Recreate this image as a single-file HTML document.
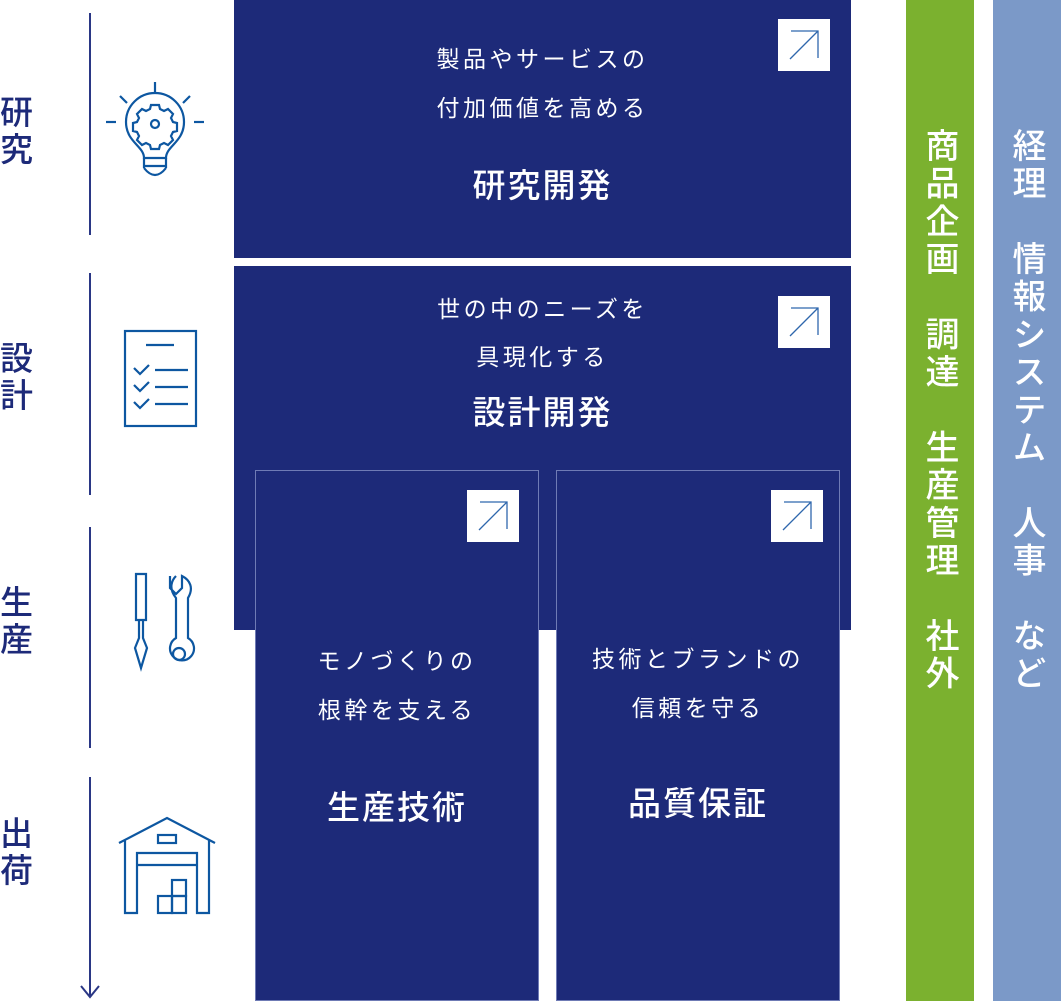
<!DOCTYPE html>
<html><head><meta charset="utf-8"><style>
*{margin:0;padding:0;box-sizing:border-box}
body{width:1061px;height:1001px;background:#fff;position:relative;overflow:hidden;font-family:"Liberation Sans","Noto Sans CJK JP",sans-serif}
.a{position:absolute}
.nv{background:#1d2a79}
.t{position:absolute;color:#fff;text-align:center;white-space:nowrap;line-height:1}
.s{font-size:23px;letter-spacing:3.5px}
.b{font-size:33px;letter-spacing:2px;font-weight:500}
.ar{position:absolute;width:52px;height:52px;background:#fff}
.lb{position:absolute;left:0;width:36px;color:#1d2a79;font-size:33px;line-height:37px;font-weight:500}
.vl{position:absolute;left:89px;width:2px;background:#2a3785}
.vt{position:absolute;top:128px;writing-mode:vertical-rl;color:#fff;font-size:34px;letter-spacing:3.7px;font-weight:500;line-height:1}
</style></head><body>
<div class="vl" style="top:13px;height:222px"></div>
<div class="vl" style="top:273px;height:222px"></div>
<div class="vl" style="top:527px;height:221px"></div>
<div class="vl" style="top:777px;height:220px"></div>
<svg class="a" style="left:78px;top:982px" width="24" height="18"><polyline points="3,4 12,15 21,4" fill="none" stroke="#2a3785" stroke-width="2"/></svg>
<div class="lb" style="top:94px">研<br>究</div>
<div class="lb" style="top:340px">設<br>計</div>
<div class="lb" style="top:584px">生<br>産</div>
<div class="lb" style="top:815px">出<br>荷</div>

<svg class="a" style="left:0;top:0" width="230" height="1001" fill="none" stroke="#0d57a1" stroke-width="2.2">
<line x1="155" y1="82" x2="155" y2="92"/><line x1="120" y1="96" x2="127" y2="103"/><line x1="190" y1="96" x2="183" y2="103"/>
<line x1="106" y1="122" x2="116" y2="122"/><line x1="194" y1="122" x2="204" y2="122"/>
<path d="M144,158 C144,146 126,142 126,122 A29,29 0 1 1 184,122 C184,142 166,146 166,158 Z"/>
<line x1="144" y1="158" x2="144" y2="168"/><line x1="166" y1="158" x2="166" y2="168"/><line x1="144" y1="166" x2="166" y2="166"/>
<path d="M144,168 Q155,182 166,168"/>
<path d="M151,109 h8 l1,4 l4,2 l4,-2 l5,5 l-2,4 l2,4 l4,1 v8 l-4,1 l-2,4 l2,4 l-5,5 l-4,-2 l-4,2 l-1,4 h-8 l-1,-4 l-4,-2 l-4,2 l-5,-5 l2,-4 l-2,-4 l-4,-1 v-8 l4,-1 l2,-4 l-2,-4 l5,-5 l4,2 l4,-2 z" transform="translate(0,-4) scale(1) "/>
<circle cx="155" cy="124" r="4"/>
<rect x="125" y="331" width="71" height="95"/>
<line x1="146" y1="345" x2="174" y2="345"/>
<line x1="155" y1="370" x2="188" y2="370"/><line x1="155" y1="387" x2="188" y2="387"/><line x1="155" y1="404" x2="188" y2="404"/>
<polyline points="134,368 140,374 149,365"/><polyline points="134,385 140,391 149,382"/><polyline points="134,402 140,408 149,399"/>
<path d="M136,574 h10 v46 h-10 z"/><path d="M139,620 v18 l-4,10 l6,20 l6,-20 l-4,-10 v-18"/>
<path d="M170,576 v12 l6,6 l6,-6 v-12 c8,4 12,12 6,22 v40 a12,12 0 1 1 -12,0 v-40 c-8,-10 -4,-18 0,-22"/>
<circle cx="179" cy="654" r="6"/>
<polyline points="119,843 167,818 215,843"/>
<polyline points="125,840 125,913 137,913 137,853 197,853 197,913 209,913 209,840"/>
<rect x="158" y="835" width="18" height="8"/><line x1="137" y1="865" x2="197" y2="865"/>
<rect x="158" y="896" width="14" height="17"/><rect x="172" y="896" width="14" height="17"/><rect x="172" y="880" width="14" height="16"/>
</svg>

<div class="a nv" style="left:234px;top:0;width:617px;height:258px"></div>
<div class="a nv" style="left:234px;top:266px;width:617px;height:364px"></div>
<div class="a nv" style="left:255px;top:470px;width:284px;height:531px;border:1px solid #6f7bb5"></div>
<div class="a nv" style="left:556px;top:470px;width:284px;height:531px;border:1px solid #6f7bb5"></div>

<div class="t s" style="left:234px;width:617px;top:48px">製品やサービスの</div>
<div class="t s" style="left:234px;width:617px;top:97px">付加価値を高める</div>
<div class="t b" style="left:234px;width:617px;top:169px">研究開発</div>
<div class="t s" style="left:234px;width:617px;top:298px">世の中のニーズを</div>
<div class="t s" style="left:234px;width:617px;top:346px">具現化する</div>
<div class="t b" style="left:234px;width:617px;top:396px">設計開発</div>
<div class="t s" style="left:255px;width:284px;top:650px">モノづくりの</div>
<div class="t s" style="left:255px;width:284px;top:699px">根幹を支える</div>
<div class="t b" style="left:255px;width:284px;top:791px">生産技術</div>
<div class="t s" style="left:556px;width:284px;top:648px">技術とブランドの</div>
<div class="t s" style="left:556px;width:284px;top:697px">信頼を守る</div>
<div class="t b" style="left:556px;width:284px;top:787px">品質保証</div>

<div class="ar" style="left:778px;top:19px"></div>
<div class="ar" style="left:778px;top:296px"></div>
<div class="ar" style="left:467px;top:490px"></div>
<div class="ar" style="left:771px;top:490px"></div>
<svg class="a" style="left:0;top:0" width="900" height="560" fill="none" stroke="#2f67ad" stroke-width="1.3">
<g id="g"><line x1="790" y1="59" x2="818" y2="31"/><polyline points="791,31 818,31 818,58"/></g>
<use href="#g" transform="translate(0,277)"/>
<use href="#g" transform="translate(-311,471)"/>
<use href="#g" transform="translate(-7,471)"/>
</svg>

<div class="a" style="left:906px;top:0;width:68px;height:1001px;background:#7bb12f"></div>
<div class="a" style="left:993px;top:0;width:68px;height:1001px;background:#7b99c8"></div>
<div class="vt" style="left:922px">商品企画　調達　生産管理　社外</div>
<div class="vt" style="left:1009px">経理　情報システム　人事　など</div>
</body></html>
